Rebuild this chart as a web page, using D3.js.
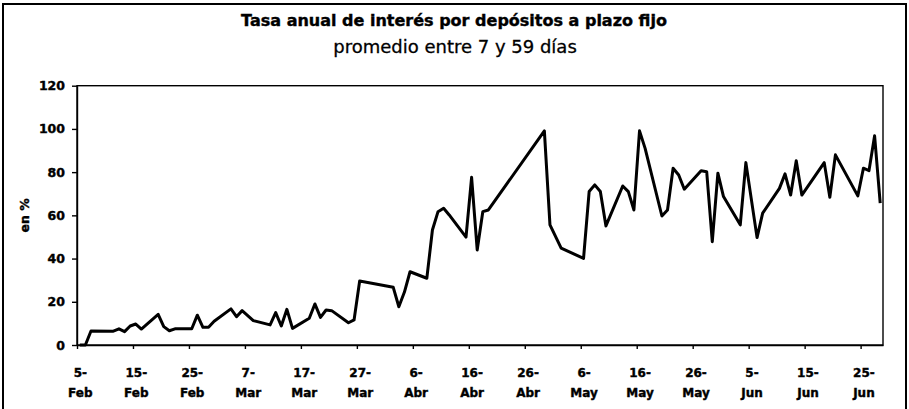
<!DOCTYPE html>
<html>
<head>
<meta charset="utf-8">
<script src="https://cdn.jsdelivr.net/npm/d3@7"></script>
<style>
  body { margin: 0; background: #fff; }
  text { fill: #000; }
  .heavy { stroke: #000; stroke-width: 0.4px; }
</style>
</head>
<body>
<div id="chart"></div>
<script>
// daily observations (year is not shown on the chart, 1990 used as a non-leap year)
var dates = [
  "1990-02-05", "1990-02-06", "1990-02-07", "1990-02-11", "1990-02-12", "1990-02-13", "1990-02-14",
  "1990-02-15", "1990-02-16", "1990-02-19", "1990-02-20", "1990-02-21", "1990-02-22", "1990-02-25",
  "1990-02-26", "1990-02-27", "1990-02-28", "1990-03-01", "1990-03-04", "1990-03-05", "1990-03-06",
  "1990-03-08", "1990-03-11", "1990-03-12", "1990-03-13", "1990-03-14", "1990-03-15", "1990-03-18",
  "1990-03-19", "1990-03-20", "1990-03-21", "1990-03-22", "1990-03-25", "1990-03-26", "1990-03-27",
  "1990-04-02", "1990-04-03", "1990-04-04", "1990-04-05", "1990-04-08", "1990-04-09", "1990-04-10",
  "1990-04-11", "1990-04-12", "1990-04-15", "1990-04-16", "1990-04-17", "1990-04-18", "1990-04-19",
  "1990-04-29", "1990-04-30", "1990-05-02", "1990-05-06", "1990-05-07", "1990-05-08", "1990-05-09",
  "1990-05-10", "1990-05-13", "1990-05-14", "1990-05-15", "1990-05-16", "1990-05-17", "1990-05-20",
  "1990-05-21", "1990-05-22", "1990-05-23", "1990-05-24", "1990-05-27", "1990-05-28", "1990-05-29",
  "1990-05-30", "1990-05-31", "1990-06-03", "1990-06-04", "1990-06-06", "1990-06-07", "1990-06-10",
  "1990-06-11", "1990-06-12", "1990-06-13", "1990-06-14", "1990-06-18", "1990-06-19", "1990-06-20",
  "1990-06-24", "1990-06-25", "1990-06-26", "1990-06-27", "1990-06-28"
];

var rates = [
  0, 0, 6.5, 6.4, 7.5, 6.2, 8.8,
  9.7, 7.4, 14.2, 8.5, 6.6, 7.5, 7.5,
  13.8, 8.2, 8.2, 11, 16.7, 13.1, 15.9,
  11.3, 9.3, 15, 8.8, 16.5, 7.7, 12.4,
  19, 12.8, 16.2, 15.9, 10.3, 11.6, 29.6,
  26.7, 17.7, 24.5, 33.9, 30.9, 53.2, 61.7,
  63.3, 60.2, 49.9, 77.6, 44, 61.7, 62.5,
  99.1, 55.6, 44.8, 40.1, 71, 74.1, 71,
  55.1, 73.6, 71, 62.5, 99.1, 91, 59.7,
  62.5, 81.8, 78.7, 72.1, 80.6, 80.2, 47.8,
  79.5, 68.7, 55.6, 84.4, 49.7, 61, 72.5,
  79.2, 69.4, 85.3, 69.4, 84.4, 68.4, 88,
  69, 81.8, 80.7, 96.8, 65.6
];

var yTicks = [0, 20, 40, 60, 80, 100, 120];
var monthNames = ["Ene", "Feb", "Mar", "Abr", "May", "Jun", "Jul", "Ago", "Sep", "Oct", "Nov", "Dic"];
var axisStart = "1990-02-05";
var axisEnd = "1990-06-29";
var tickEvery = 10; // days

var title = "Tasa anual de interés por depósitos a plazo fijo";
var subtitle = "promedio entre 7 y 59 días";
var yLabel = "en %";

var W = 909, H = 409;
var margin = { top: 85.7, right: 26, bottom: 64, left: 77 };
var width = W - margin.left - margin.right,
    height = H - margin.top - margin.bottom;

var parse = d3.utcParse("%Y-%m-%d");
var data = dates.map(function(d, i) {
  return { date: parse(d), rate: rates[i] };
});

var svg = d3.select("#chart").append("svg")
  .attr("width", W)
  .attr("height", H);

// outer frame
svg.append("rect")
  .attr("x", 3).attr("y", 4)
  .attr("width", 903).attr("height", 430)
  .attr("fill", "none")
  .attr("stroke", "#000")
  .attr("stroke-width", 2);

svg.append("text")
  .attr("class", "heavy")
  .attr("x", 454).attr("y", 26)
  .attr("text-anchor", "middle")
  .style("font-family", "DejaVu Sans")
  .style("font-weight", "bold")
  .style("font-size", "16px")
  .text(title);

svg.append("text")
  .attr("x", 455).attr("y", 53)
  .attr("text-anchor", "middle")
  .style("font-family", "DejaVu Sans")
  .style("font-size", "18px")
  .style("stroke", "#000")
  .style("stroke-width", "0.3px")
  .text(subtitle);

var g = svg.append("g")
  .attr("transform", "translate(" + margin.left + "," + margin.top + ")");

var x = d3.scaleUtc()
  .domain([parse(axisStart), parse(axisEnd)])
  .range([0, width]);

var y = d3.scaleLinear()
  .domain([0, 120])
  .range([height, 0]);

var halfDay = (x(d3.utcDay.offset(parse(axisStart), 1)) - x(parse(axisStart))) / 2;

var xTickValues = d3.range(0, 145, tickEvery).map(function(k) {
  return d3.utcDay.offset(parse(axisStart), k);
});

// plot border
g.append("rect")
  .attr("width", width)
  .attr("height", height)
  .attr("fill", "none")
  .attr("stroke", "#000")
  .attr("stroke-width", 1.4);

var yAxis = d3.axisLeft(y)
  .tickValues(yTicks)
  .tickSize(5)
  .tickSizeOuter(0)
  .tickPadding(7);

g.append("g")
  .attr("class", "y-axis axis")
  .call(yAxis)
  .call(function(s) {
    s.select(".domain").attr("stroke-width", 1.4);
    s.selectAll("line").attr("stroke-width", 1.4);
    s.selectAll("text")
      .attr("class", "heavy")
      .style("font-family", "DejaVu Sans")
      .style("font-weight", "bold")
      .style("font-size", "12.5px");
  });

var xAxis = d3.axisBottom(x)
  .tickValues(xTickValues)
  .tickSize(4)
  .tickSizeOuter(0)
  .tickFormat("");

var xg = g.append("g")
  .attr("class", "x-axis axis")
  .attr("transform", "translate(0," + height + ")")
  .call(xAxis);

xg.select(".domain").attr("stroke-width", 1.4);
xg.selectAll("line").attr("stroke-width", 1.4);

// two-line tick labels, centred on the day
var labels = xg.selectAll(".tick")
  .append("text")
  .attr("class", "heavy")
  .attr("x", halfDay)
  .attr("text-anchor", "middle")
  .style("font-family", "DejaVu Sans")
  .style("font-weight", "bold")
  .style("font-size", "12px");

labels.append("tspan")
  .attr("x", halfDay)
  .attr("y", 32)
  .text(function(d) { return d.getUTCDate() + "-"; });

labels.append("tspan")
  .attr("x", halfDay)
  .attr("y", 52)
  .text(function(d) { return monthNames[d.getUTCMonth()]; });

svg.append("text")
  .attr("class", "heavy")
  .attr("transform", "translate(29," + (margin.top + height / 2) + ") rotate(-90)")
  .attr("text-anchor", "middle")
  .style("font-family", "DejaVu Sans")
  .style("font-weight", "bold")
  .style("font-size", "12.5px")
  .text(yLabel);

var line = d3.line()
  .x(function(d) { return x(d.date) + halfDay; })
  .y(function(d) { return y(d.rate); });

g.append("path")
  .datum(data)
  .attr("fill", "none")
  .attr("stroke", "#000")
  .attr("stroke-width", 3)
  .attr("stroke-linejoin", "round")
  .attr("d", line);
</script>
</body>
</html>
